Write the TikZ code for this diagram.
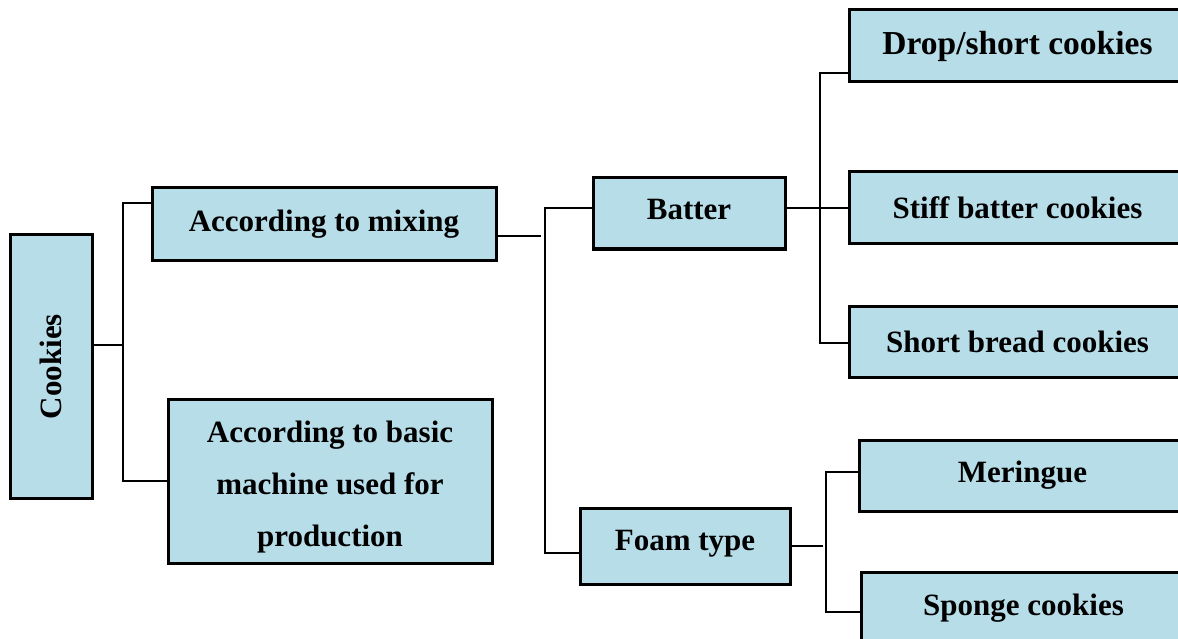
\documentclass[tikz,border=0pt]{standalone}
\usepackage{fontspec}
\setmainfont{Liberation Serif}
\definecolor{boxfill}{HTML}{B7DDE8}
\tikzset{
  box/.style={draw=black, line width=3pt, fill=boxfill, rectangle, inner sep=0pt,
    font=\fontsize{31}{37}\selectfont\bfseries, align=center},
  conn/.style={draw=black, line width=2pt}
}
\begin{document}
\begin{tikzpicture}[x=1pt,y=-1pt]
\useasboundingbox (0,0) rectangle (1178,639);
\clip (0,0) rectangle (1178,639);
\fill[white] (0,0) rectangle (1178,639);
\node[box, minimum width=82pt, minimum height=263pt] (cookies) at (51,366.5) {\rotatebox{90}{Cookies}};
\node[box, minimum width=344pt, minimum height=72pt] (mixing) at (324,224) {According to mixing};
\node[box, minimum width=324pt, minimum height=164pt, font=\fontsize{31}{52}\selectfont\bfseries] (machine) at (330,481) {\rule{0pt}{33pt}According to basic\\machine used for\\production};
\node[box, minimum width=192pt, minimum height=71pt] (batter) at (689,213.5) {\rule{0pt}{15pt}Batter\rule[-9pt]{0pt}{9pt}};
\node[box, minimum width=210pt, minimum height=76pt] (foam) at (685,546) {Foam type\rule[-11pt]{0pt}{11pt}};
\node[box, minimum width=337pt, minimum height=72pt, font=\fontsize{33.5}{40}\selectfont\bfseries] (drop) at (1017.5,46) {Drop/short cookies};
\node[box, minimum width=337pt, minimum height=72pt] (stiff) at (1017.5,208) {Stiff batter cookies};
\node[box, minimum width=337pt, minimum height=71pt] (short) at (1017.5,341.5) {Short bread cookies};
\node[box, minimum width=327pt, minimum height=71pt] (meringue) at (1022.5,475.5) {Meringue};
\node[box, minimum width=325pt, minimum height=72pt] (sponge) at (1023.5,608) {Sponge cookies};
% cookies -> level 1
\draw[conn] (cookies.east|-0,345) -- (123,345);
\draw[conn] (mixing.west|-0,203) -- (123,203) -- (123,481) -- (machine.west|-0,481);
% mixing -> batter / foam
\draw[conn] (mixing.east|-0,236) -- (541,236);
\draw[conn] (batter.west|-0,208) -- (545,208) -- (545,553) -- (foam.west|-0,553);
% batter -> children
\draw[conn] (batter.east|-0,208) -- (stiff.west|-0,208);
\draw[conn] (drop.west|-0,73) -- (820,73) -- (820,343) -- (short.west|-0,343);
% foam -> children
\draw[conn] (foam.east|-0,546) -- (823,546);
\draw[conn] (meringue.west|-0,472) -- (826,472) -- (826,612) -- (sponge.west|-0,612);
\end{tikzpicture}
\end{document}
